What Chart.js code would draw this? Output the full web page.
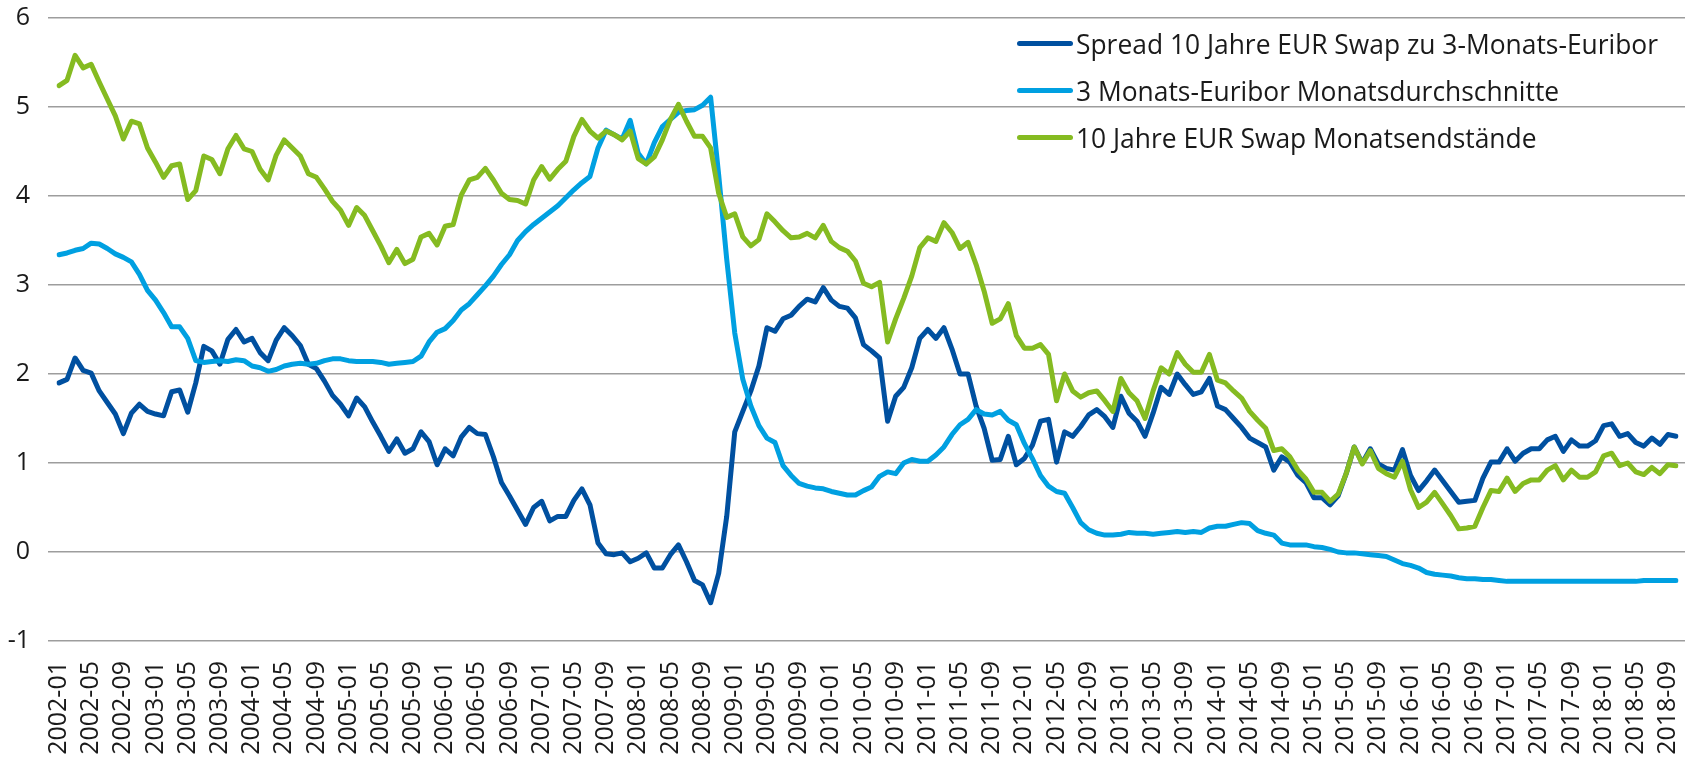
<!DOCTYPE html>
<html>
<head>
<meta charset="utf-8">
<title>Spread 10 Jahre EUR Swap zu 3-Monats-Euribor</title>
<script src="https://cdn.jsdelivr.net/npm/chart.js@4/dist/chart.umd.min.js"></script>
<style>
  body { margin: 0; background: #fff; }
  #wrap { position: relative; width: 1688px; height: 758px; }
  #legend {
    position: absolute; left: 1017px; top: 20px;
    font-family: 'Open Sans', sans-serif; font-size: 26.4px; color: #1a1a1a;
  }
  .legendItem { display: flex; align-items: center; height: 47px; white-space: nowrap; }
  .legendLine { width: 56px; height: 5px; border-radius: 3px; margin-right: 3px; }
</style>
</head>
<body>
<div id="wrap">
  <canvas id="chart"></canvas>
  <div id="legend"></div>
</div>
<script>
const legendDiv = document.getElementById('legend');

// Monthly categories 2002-01 .. 2018-10
const months = [];
for (let y = 2002; y <= 2018; y++) {
    for (let m = 1; m <= 12; m++) {
        if (y === 2018 && m > 10) break;
        months.push(y + '-' + (m < 10 ? '0' + m : m));
    }
}

const seriesNames = [
    'Spread 10 Jahre EUR Swap zu 3-Monats-Euribor',
    '3 Monats-Euribor Monatsdurchschnitte',
    '10 Jahre EUR Swap Monatsendstände'
];

const spread = [
    1.90, 1.94, 2.18, 2.04, 2.01, 1.81, 1.68, 1.55, 1.33, 1.56, 1.66, 1.58,
    1.55, 1.53, 1.80, 1.82, 1.57, 1.90, 2.31, 2.26, 2.11, 2.39, 2.50, 2.36,
    2.40, 2.24, 2.15, 2.38, 2.52, 2.43, 2.32, 2.11, 2.06, 1.92, 1.76, 1.66,
    1.53, 1.73, 1.63, 1.46, 1.30, 1.13, 1.27, 1.11, 1.16, 1.35, 1.24, 0.98,
    1.16, 1.08, 1.29, 1.40, 1.33, 1.32, 1.07, 0.78, 0.63, 0.47, 0.31, 0.50,
    0.57, 0.35, 0.40, 0.40, 0.58, 0.71, 0.53, 0.10, -0.02, -0.03, -0.01, -0.11,
    -0.07, -0.01, -0.18, -0.18, -0.03, 0.08, -0.11, -0.32, -0.37, -0.57, -0.24, 0.40,
    1.35, 1.58, 1.81, 2.09, 2.52, 2.48, 2.62, 2.66, 2.76, 2.84, 2.81, 2.97,
    2.83, 2.76, 2.74, 2.63, 2.33, 2.26, 2.18, 1.47, 1.75, 1.85, 2.07, 2.40,
    2.50, 2.40, 2.52, 2.28, 2.00, 2.00, 1.64, 1.39, 1.03, 1.04, 1.30, 0.98,
    1.05, 1.20, 1.47, 1.49, 1.01, 1.35, 1.30, 1.41, 1.54, 1.60, 1.52, 1.40,
    1.75, 1.56, 1.47, 1.30, 1.56, 1.85, 1.77, 2.00, 1.88, 1.77, 1.80, 1.95,
    1.64, 1.60, 1.50, 1.40, 1.28, 1.23, 1.18, 0.92, 1.07, 1.01, 0.86, 0.78,
    0.61, 0.61, 0.53, 0.63, 0.88, 1.18, 1.00, 1.16, 0.99, 0.94, 0.92, 1.15,
    0.86, 0.69, 0.80, 0.92, 0.80, 0.68, 0.56, 0.57, 0.58, 0.83, 1.01, 1.01,
    1.16, 1.02, 1.11, 1.16, 1.16, 1.26, 1.30, 1.13, 1.26, 1.19, 1.19, 1.25,
    1.42, 1.44, 1.30, 1.33, 1.23, 1.19, 1.28, 1.21, 1.32, 1.30
];

const euribor = [
    3.34, 3.36, 3.39, 3.41, 3.47, 3.46, 3.41, 3.35, 3.31, 3.26, 3.12, 2.94,
    2.83, 2.69, 2.53, 2.53, 2.40, 2.15, 2.13, 2.14, 2.15, 2.14, 2.16, 2.15,
    2.09, 2.07, 2.03, 2.05, 2.09, 2.11, 2.12, 2.11, 2.12, 2.15, 2.17, 2.17,
    2.15, 2.14, 2.14, 2.14, 2.13, 2.11, 2.12, 2.13, 2.14, 2.20, 2.36, 2.47,
    2.51, 2.60, 2.72, 2.79, 2.89, 2.99, 3.10, 3.23, 3.34, 3.50, 3.60, 3.68,
    3.75, 3.82, 3.89, 3.98, 4.07, 4.15, 4.22, 4.54, 4.74, 4.69, 4.64, 4.85,
    4.48, 4.36, 4.60, 4.78, 4.86, 4.94, 4.96, 4.97, 5.02, 5.11, 4.24, 3.29,
    2.46, 1.94, 1.64, 1.42, 1.28, 1.23, 0.97, 0.86, 0.77, 0.74, 0.72, 0.71,
    0.68, 0.66, 0.64, 0.64, 0.69, 0.73, 0.85, 0.90, 0.88, 1.00, 1.04, 1.02,
    1.02, 1.09, 1.18, 1.32, 1.43, 1.49, 1.60, 1.55, 1.54, 1.58, 1.48, 1.43,
    1.22, 1.05, 0.86, 0.74, 0.68, 0.66, 0.50, 0.33, 0.25, 0.21, 0.19, 0.19,
    0.20, 0.22, 0.21, 0.21, 0.20, 0.21, 0.22, 0.23, 0.22, 0.23, 0.22, 0.27,
    0.29, 0.29, 0.31, 0.33, 0.32, 0.24, 0.21, 0.19, 0.10, 0.08, 0.08, 0.08,
    0.06, 0.05, 0.03, 0.00, -0.01, -0.01, -0.02, -0.03, -0.04, -0.05, -0.09, -0.13,
    -0.15, -0.18, -0.23, -0.25, -0.26, -0.27, -0.29, -0.30, -0.30, -0.31, -0.31, -0.32,
    -0.33, -0.33, -0.33, -0.33, -0.33, -0.33, -0.33, -0.33, -0.33, -0.33, -0.33, -0.33,
    -0.33, -0.33, -0.33, -0.33, -0.33, -0.32, -0.32, -0.32, -0.32, -0.32
];

const swap10y = [
    5.24, 5.30, 5.58, 5.44, 5.48, 5.28, 5.09, 4.90, 4.64, 4.84, 4.81, 4.54,
    4.38, 4.21, 4.34, 4.36, 3.96, 4.06, 4.45, 4.41, 4.25, 4.53, 4.68, 4.53,
    4.50, 4.30, 4.18, 4.46, 4.63, 4.54, 4.45, 4.25, 4.21, 4.08, 3.94, 3.84,
    3.67, 3.87, 3.78, 3.61, 3.44, 3.25, 3.40, 3.24, 3.29, 3.54, 3.58, 3.45,
    3.66, 3.68, 4.01, 4.18, 4.21, 4.31, 4.18, 4.03, 3.96, 3.95, 3.91, 4.18,
    4.33, 4.19, 4.30, 4.39, 4.67, 4.86, 4.73, 4.65, 4.73, 4.69, 4.63, 4.73,
    4.42, 4.36, 4.44, 4.63, 4.86, 5.03, 4.84, 4.67, 4.67, 4.54, 4.03, 3.76,
    3.80, 3.54, 3.44, 3.51, 3.80, 3.71, 3.61, 3.53, 3.54, 3.58, 3.53, 3.67,
    3.49, 3.42, 3.38, 3.27, 3.02, 2.98, 3.03, 2.36, 2.62, 2.85, 3.10, 3.42,
    3.53, 3.49, 3.70, 3.59, 3.41, 3.48, 3.23, 2.93, 2.57, 2.62, 2.79, 2.43,
    2.29, 2.29, 2.33, 2.22, 1.70, 2.00, 1.81, 1.74, 1.79, 1.81, 1.70, 1.58,
    1.95, 1.79, 1.70, 1.50, 1.81, 2.07, 2.00, 2.24, 2.11, 2.02, 2.02, 2.22,
    1.93, 1.90, 1.81, 1.73, 1.58, 1.48, 1.39, 1.14, 1.16, 1.07, 0.92, 0.82,
    0.67, 0.67, 0.57, 0.65, 0.88, 1.18, 0.99, 1.14, 0.94, 0.88, 0.84, 1.02,
    0.70, 0.50, 0.56, 0.67, 0.54, 0.41, 0.26, 0.27, 0.29, 0.50, 0.69, 0.68,
    0.83, 0.68, 0.77, 0.81, 0.81, 0.92, 0.97, 0.81, 0.92, 0.84, 0.84, 0.90,
    1.08, 1.11, 0.97, 1.00, 0.90, 0.87, 0.95, 0.88, 0.98, 0.97
];

const colors = ['#0050a0', '#00a0e1', '#85bb21'];
const gridColor = '#9d9d9d';
const textColor = '#1a1a1a';
const tickFont = { family: "'Open Sans', sans-serif", size: 25 };

function makeLine(label, data, color, order) {
    return {
        label: label,
        data: data,
        borderColor: color,
        backgroundColor: color,
        borderWidth: 5,
        pointRadius: 0,
        tension: 0,
        borderJoinStyle: 'round',
        borderCapStyle: 'round',
        order: order
    };
}

//Writes the legend next to the top grid lines
function buildLegend(chart) {
    chart.data.datasets.forEach(ds => {
        const item = document.createElement('div');
        item.className = 'legendItem';
        const line = document.createElement('span');
        line.className = 'legendLine';
        line.style.background = ds.borderColor;
        const text = document.createElement('span');
        text.innerText = ds.label;
        item.appendChild(line);
        item.appendChild(text);
        legendDiv.appendChild(item);
    });
}

const chart = new Chart(document.getElementById('chart'), {
    type: 'line',
    data: {
        labels: months,
        datasets: [
            makeLine(seriesNames[0], spread, colors[0], 2),
            makeLine(seriesNames[1], euribor, colors[1], 1),
            makeLine(seriesNames[2], swap10y, colors[2], 0)
        ]
    },
    options: {
        responsive: true,
        maintainAspectRatio: false,
        animation: false,
        layout: { padding: { top: 18, right: 3, bottom: 0, left: 0 } },
        plugins: {
            legend: { display: false },
            tooltip: { enabled: false }
        },
        scales: {
            x: {
                offset: false,
                grid: { display: false, drawTicks: false },
                border: { display: false },
                ticks: {
                    autoSkip: false,
                    minRotation: 90,
                    maxRotation: 90,
                    padding: 20,
                    color: textColor,
                    font: tickFont,
                    callback: function(val, i) {
                        return i % 4 === 0 ? this.getLabelForValue(val) : null;
                    }
                },
                afterFit: axis => {
                    axis.height = 117;
                    axis.paddingLeft = 0;
                    axis.paddingRight = 0;
                }
            },
            y: {
                min: -1,
                max: 6,
                ticks: { stepSize: 1, padding: 18, color: textColor, font: tickFont },
                grid: { color: gridColor, lineWidth: 1.5, drawTicks: true, tickLength: 11 },
                border: { display: false },
                afterFit: axis => {
                    axis.width = 59;
                    axis.paddingTop = 0;
                    axis.paddingBottom = 0;
                }
            },
            y2: {
                position: 'right',
                min: -1,
                max: 6,
                ticks: { display: false, stepSize: 1 },
                grid: { drawOnChartArea: false, color: gridColor, lineWidth: 1.5, drawTicks: true, tickLength: 9 },
                border: { display: false },
                afterFit: axis => {
                    axis.width = 9;
                    axis.paddingTop = 0;
                    axis.paddingBottom = 0;
                }
            }
        }
    }
});

buildLegend(chart);
</script>
</body>
</html>
